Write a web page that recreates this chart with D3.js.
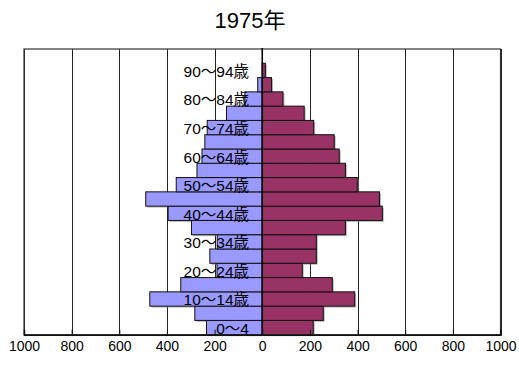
<!DOCTYPE html>
<html>
<head>
<meta charset="utf-8">
<script src="https://cdn.jsdelivr.net/npm/d3@7"></script>
<style>
  html, body { margin: 0; padding: 0; background: #fff; }
  svg { display: block; }
  text { font-family: "Liberation Sans", Arial, "Noto Sans CJK JP", sans-serif; fill: #000; }
</style>
</head>
<body>
<svg id="chart" width="519" height="374"></svg>
<script>
// Age groups, youngest first
const ageGroups = ["0～4", "5～9歳", "10～14歳", "15～19歳", "20～24歳", "25～29歳",
  "30～34歳", "35～39歳", "40～44歳", "45～49歳", "50～54歳", "55～59歳",
  "60～64歳", "65～69歳", "70～74歳", "75～79歳", "80～84歳", "85～89歳",
  "90～94歳", "95歳～"];
// Population by age group
const male   = [234, 283, 472, 342, 190, 220, 189, 297, 395, 489, 361, 274,
                253, 241, 231, 150, 73, 19, 0, 0];
const female = [214, 256, 388, 294, 168, 227, 227, 349, 504, 492, 399, 349,
                323, 302, 216, 176, 87, 39, 13, 0];
const tickValues = [-1000, -800, -600, -400, -200, 0, 200, 400, 600, 800, 1000];
const title = "1975年";

const svg = d3.select("#chart");
const plot = { left: 24, right: 500.5, top: 49, bottom: 334.7 };

const x = d3.scaleLinear().domain([-1000, 1000]).range([plot.left, plot.right]);
const y = d3.scaleBand().domain(ageGroups).range([plot.bottom, plot.top]).padding(0);

// title
svg.append("text")
  .attr("x", 250).attr("y", 27.5)
  .attr("text-anchor", "middle")
  .attr("font-size", 22)
  .text(title);

// vertical gridlines
svg.append("g").selectAll("line")
  .data(tickValues.filter(v => v !== 0))
  .join("line")
  .attr("x1", d => Math.round(x(d)) + 0.5).attr("x2", d => Math.round(x(d)) + 0.5)
  .attr("y1", plot.top).attr("y2", plot.bottom)
  .attr("stroke", "#222").attr("stroke-width", 1);

// bars with a faint drop shadow
const rows = ageGroups.map((g, i) => ({ g, m: male[i], f: female[i] }));
const bars = [];
rows.forEach(r => {
  if (r.m > 0) bars.push({ g: r.g, x0: x(-r.m), x1: x(0), fill: "#9999FF" });
  if (r.f > 0) bars.push({ g: r.g, x0: x(0), x1: x(r.f), fill: "#993366" });
});

svg.append("g").selectAll("rect")
  .data(bars)
  .join("rect")
  .attr("x", d => d.x0 + 1.5)
  .attr("y", d => y(d.g) + 1.5)
  .attr("width", d => d.x1 - d.x0)
  .attr("height", y.bandwidth())
  .attr("fill", "#888").attr("opacity", 0.6);

svg.append("g").selectAll("rect")
  .data(bars)
  .join("rect")
  .attr("x", d => d.x0)
  .attr("y", d => y(d.g))
  .attr("width", d => d.x1 - d.x0)
  .attr("height", y.bandwidth())
  .attr("fill", d => d.fill)
  .attr("stroke", "#111").attr("stroke-width", 1);

// plot frame
svg.append("rect")
  .attr("x", plot.left).attr("y", plot.top)
  .attr("width", plot.right - plot.left).attr("height", plot.bottom - plot.top)
  .attr("fill", "none").attr("stroke", "#333").attr("stroke-width", 1.2);

// centre axis
svg.append("line")
  .attr("x1", x(0)).attr("x2", x(0))
  .attr("y1", plot.top - 1).attr("y2", plot.bottom)
  .attr("stroke", "#000").attr("stroke-width", 1.6);

// bottom axis with inward ticks
const xAxis = d3.axisBottom(x)
  .tickValues(tickValues)
  .tickFormat(d => Math.abs(d))
  .tickSize(-5)
  .tickPadding(6);

const ax = svg.append("g")
  .attr("transform", `translate(0,${plot.bottom})`)
  .call(xAxis);
ax.select(".domain").attr("stroke", "#111").attr("stroke-width", 1.5);
ax.selectAll(".tick line").attr("stroke", "#111");
ax.selectAll(".tick text")
  .attr("font-size", 14)
  .attr("font-family", "\"Liberation Sans\", Arial, sans-serif")
  .attr("fill", "#000");

// age labels on every second group
svg.append("g").selectAll("text")
  .data(ageGroups.filter((g, i) => i % 2 === 0))
  .join("text")
  .attr("x", 249)
  .attr("y", d => y(d) + y.bandwidth() / 2 + 6.5)
  .attr("text-anchor", "end")
  .attr("font-size", 15.5)
  .text(d => d);
</script>
</body>
</html>
